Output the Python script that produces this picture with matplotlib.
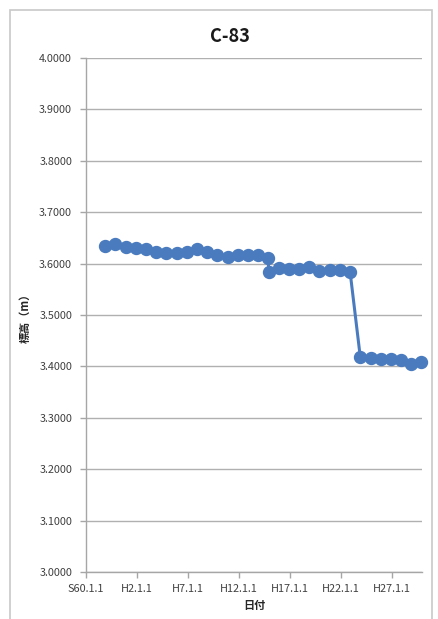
from datetime import date

import matplotlib

matplotlib.use("Agg")
import matplotlib.dates as mdates
import matplotlib.pyplot as plt
from matplotlib.patches import Rectangle

plt.rcParams["font.family"] = ["Noto Sans CJK JP", "DejaVu Sans"]

title = "C-83"
x_label = "日付"
y_label = "標高（m）"

survey_dates = [
    "1986-11-15", "1987-11-15", "1988-11-15", "1989-11-15", "1990-11-15",
    "1991-11-15", "1992-11-15", "1993-11-15", "1994-11-15", "1995-11-15",
    "1996-11-15", "1997-11-15", "1998-11-15", "1999-11-15", "2000-11-15",
    "2001-11-15", "2002-10-15", "2002-12-15", "2003-11-15", "2004-11-15",
    "2005-11-15", "2006-11-15", "2007-11-15", "2008-11-15", "2009-11-15",
    "2010-11-15", "2011-11-15", "2012-11-15", "2013-11-15", "2014-11-15",
    "2015-11-15", "2016-11-15", "2017-10-15",
]
elevation = [
    3.634, 3.638, 3.632, 3.630, 3.628, 3.623, 3.621, 3.621, 3.623, 3.628,
    3.623, 3.617, 3.613, 3.617, 3.617, 3.617, 3.610, 3.584, 3.591, 3.589,
    3.589, 3.593, 3.586, 3.588, 3.588, 3.584, 3.418, 3.416, 3.414, 3.414,
    3.412, 3.404, 3.409,
]

tick_dates = ["1985-01-01", "1990-01-01", "1995-01-01", "2000-01-01",
              "2005-01-01", "2010-01-01", "2015-01-01"]
tick_labels = ["S60.1.1", "H2.1.1", "H7.1.1", "H12.1.1", "H17.1.1", "H22.1.1", "H27.1.1"]
y_ticks = [3.0, 3.1, 3.2, 3.3, 3.4, 3.5, 3.6, 3.7, 3.8, 3.9, 4.0]

dates = [date.fromisoformat(d) for d in survey_dates]
ticks = [date.fromisoformat(d) for d in tick_dates]

W, H = 438, 619
fig = plt.figure(figsize=(W / 100, H / 100), dpi=100)
# chart-area frame, running off the bottom edge
fig.patches.append(Rectangle((10 / W, -0.01), 422 / W, 1 - 10 / H + 0.01,
                             transform=fig.transFigure, fill=False,
                             edgecolor="#c8c8c8", linewidth=1.2))

ax = fig.add_axes([86 / W, 1 - 572 / H, 336 / W, 514 / H])
ax.plot(dates, elevation, color="#4a7bbf", linewidth=2.2, marker="o",
        markersize=8.6, markerfacecolor="#4a7bbf", markeredgecolor="#4a7bbf",
        zorder=3, clip_on=False)

ax.set_ylim(3.0, 4.0)
ax.set_yticks(y_ticks)
ax.yaxis.set_major_formatter(matplotlib.ticker.FormatStrFormatter("%.4f"))
ax.set_xlim(date(1985, 1, 1), date(2017, 12, 1))
ax.set_xticks([mdates.date2num(t) for t in ticks])
ax.set_xticklabels(tick_labels)

ax.grid(axis="y", color="#b0b0b0", linewidth=1.0)
ax.set_axisbelow(True)
for side in ("top", "right"):
    ax.spines[side].set_visible(False)
for side in ("left", "bottom"):
    ax.spines[side].set_color("#a6a6a6")
    ax.spines[side].set_linewidth(1.0)
ax.tick_params(axis="both", colors="#a6a6a6", length=4, width=1.0,
               labelsize=7.8, labelcolor="#404040")
ax.tick_params(axis="x", pad=5)
ax.tick_params(axis="y", pad=6)

fig.text(230 / W, 1 - 37 / H, title, ha="center", va="center",
         fontsize=13, fontweight="bold", color="#1a1a1a")
fig.text(254 / W, 1 - 606 / H, x_label, ha="center", va="center",
         fontsize=8, fontweight="bold", color="#262626")
fig.text(25 / W, 1 - 315 / H, y_label, ha="center", va="center",
         rotation=90, fontsize=8, fontweight="bold", color="#262626")

fig.savefig("out.png", dpi=100, facecolor="white")
plt.close(fig)
